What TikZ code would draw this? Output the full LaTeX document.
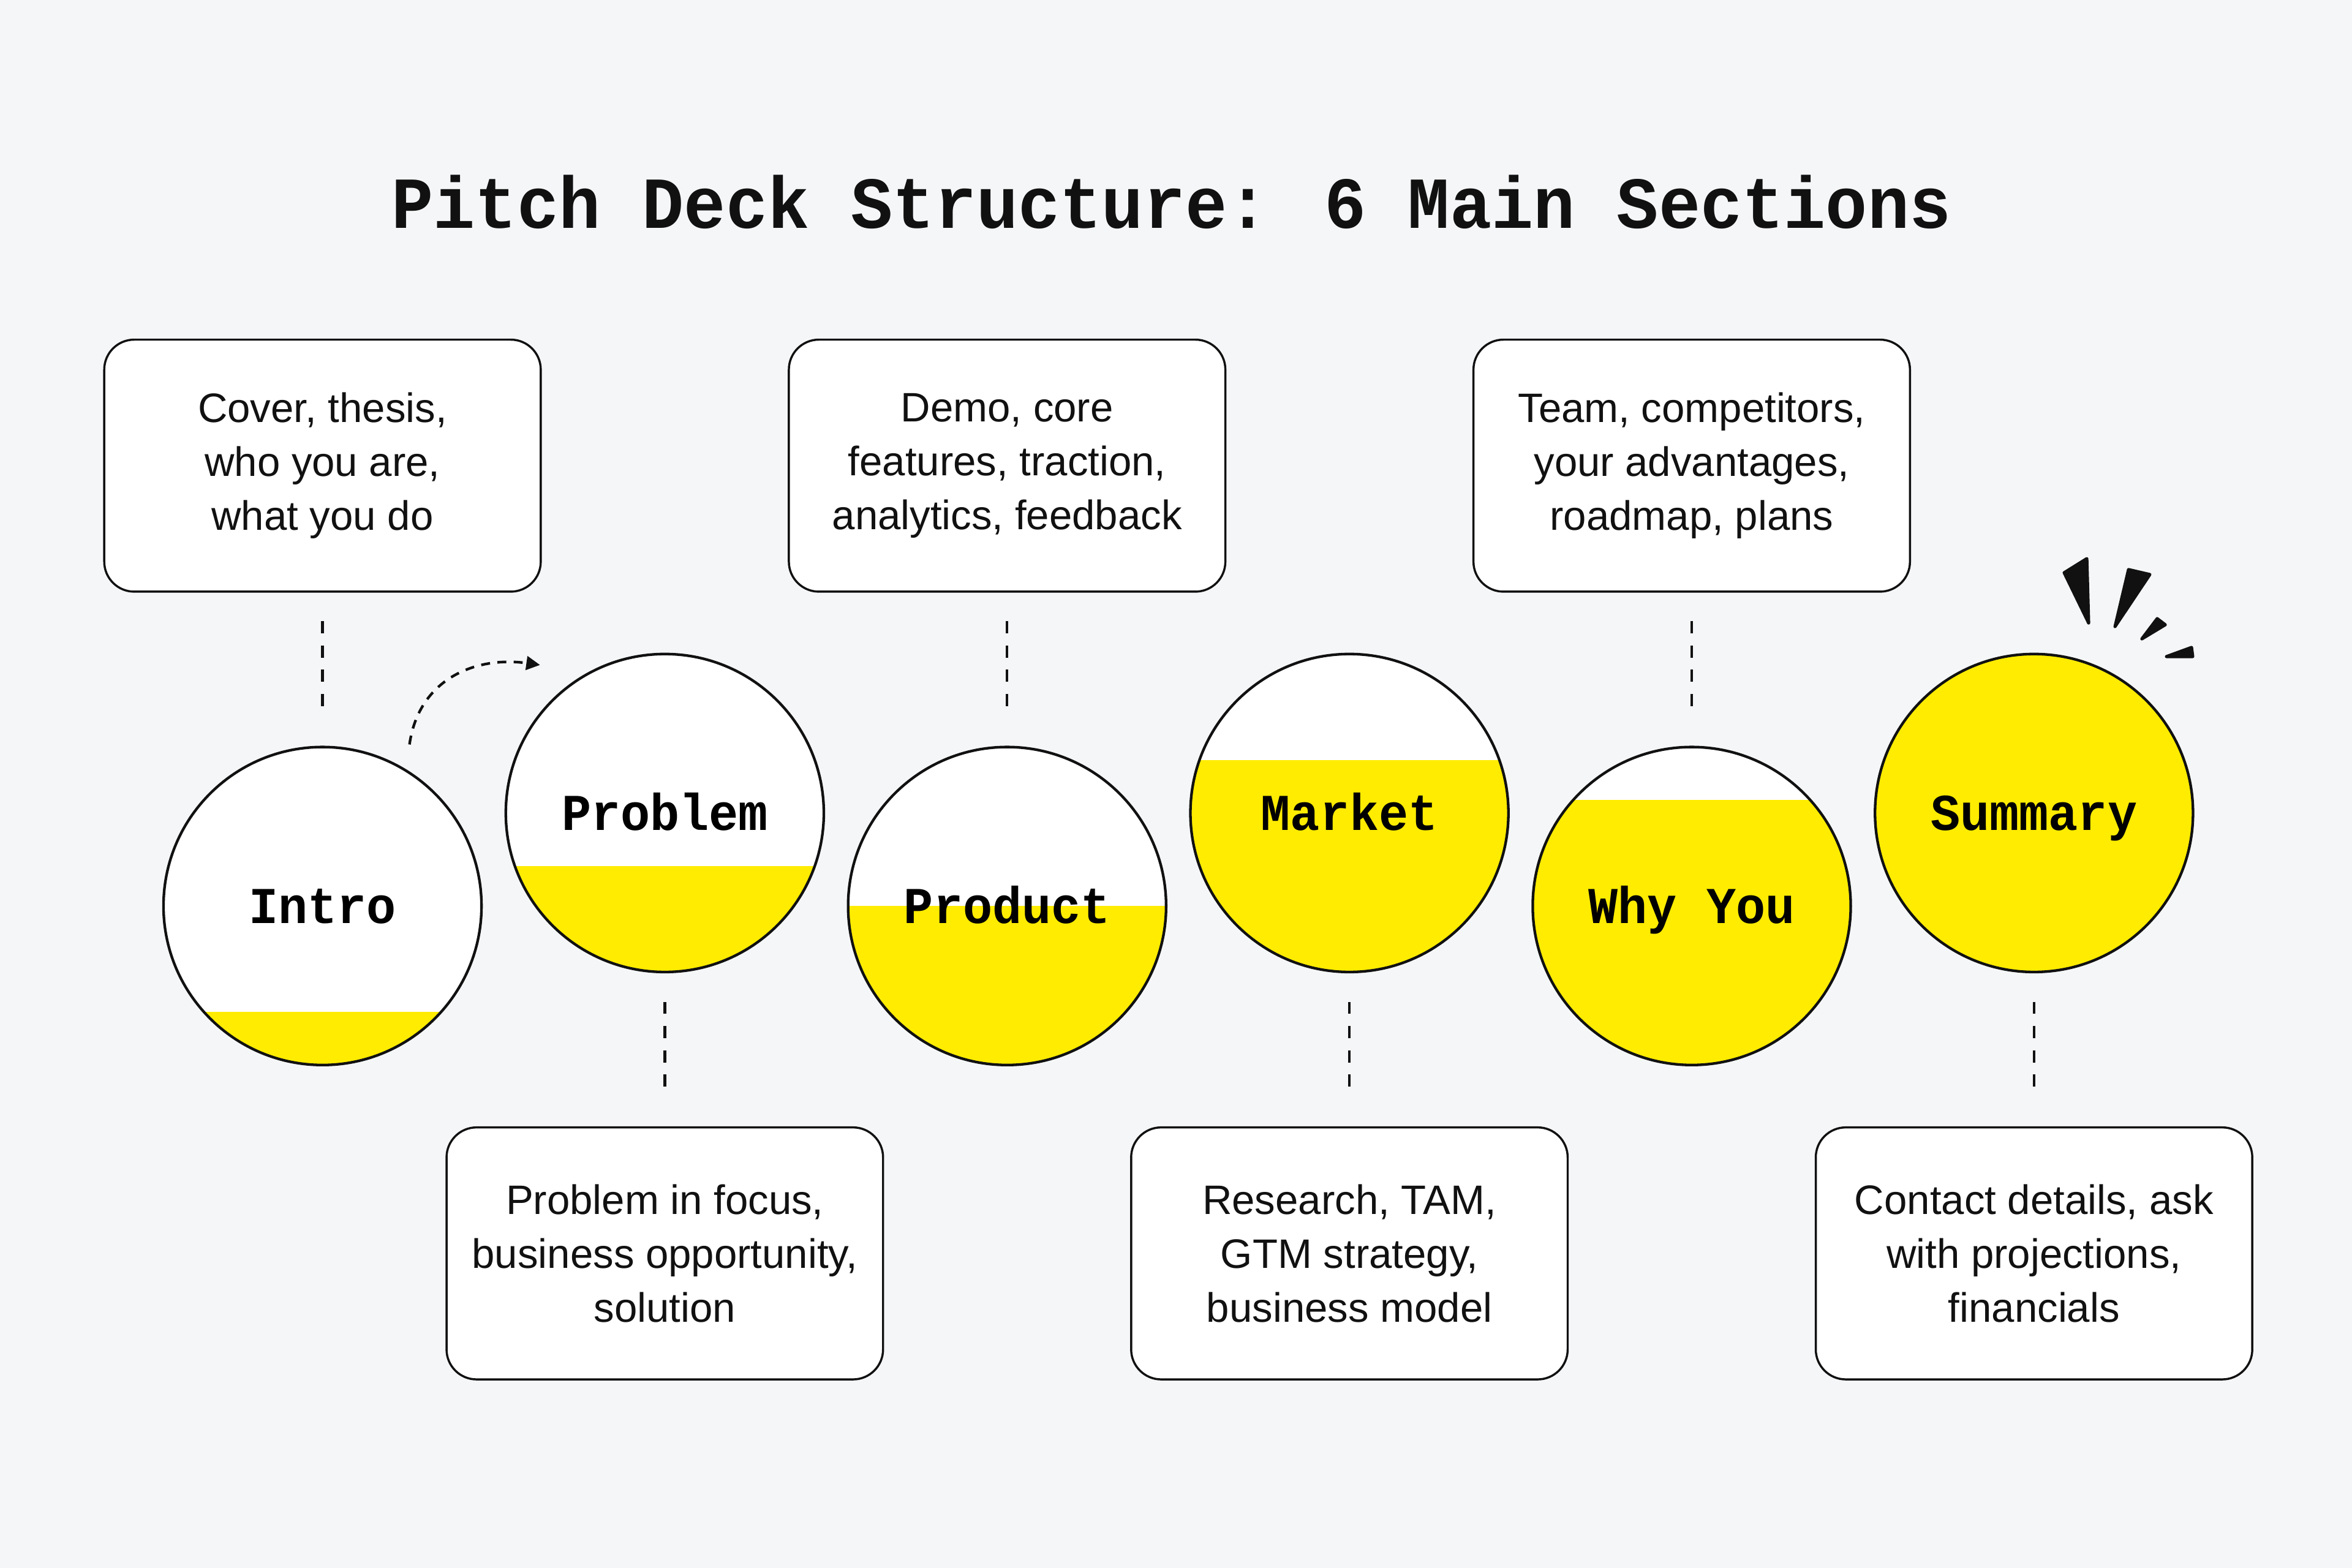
\documentclass[tikz,border=0pt]{standalone}
\usepackage{fontspec}
\setmainfont{Liberation Sans}
\newfontfamily\headfont[FakeStretch=0.95]{Liberation Mono}
\usetikzlibrary{positioning,arrows.meta}

\definecolor{pagebg}{HTML}{F5F6F8}
\definecolor{deckyellow}{HTML}{FFEC00}
\definecolor{inkblack}{HTML}{111111}

\tikzset{stage/.style = {shape = circle,
                         draw = inkblack,
                         fill = white,
                         line width = 0.5pt,
                         minimum size = 2.12cm,
                         inner sep = 0pt,
                         text height = 0.66em,
                         text depth = 0pt,
                         font = \headfont\bfseries\fontsize{9.8}{11}\selectfont},
         level/.style = {path picture = {\fill[deckyellow]
                         (path picture bounding box.south west) rectangle
                         ([yshift = #1*0.35333cm]path picture bounding box.south east);}},
         note/.style = {shape = rectangle,
                        rounded corners = 0.2cm,
                        draw = inkblack,
                        fill = white,
                        line width = 0.4pt,
                        minimum width = 2.91cm,
                        minimum height = 1.68cm,
                        align = center,
                        text = inkblack,
                        font = \fontsize{7.8}{10.25}\selectfont},
         link/.style = {draw = inkblack,
                        line width = 0.5pt,
                        dash pattern = on 2.3pt off 2.3pt,
                        shorten < = 0.19cm,
                        shorten > = 0.2cm},
         turn/.style = {draw = inkblack,
                        line width = 0.5pt,
                        dash pattern = on 1.7pt off 1.4pt,
                        -{Triangle[length = 2.6pt, width = 2.6pt]}},
         spark/.style = {fill = inkblack,
                         draw = inkblack,
                         line width = 0.6pt,
                         line join = round}}

\begin{document}
\begin{tikzpicture}
	\fill[pagebg] (0,0) rectangle (15.68,10.4533);

	\node[anchor = base, text = inkblack,
	      font = \headfont\bfseries\fontsize{13.9}{16}\selectfont] (heading) at (7.81,8.933)
	      {Pitch Deck Structure: 6 Main Sections};

	% six stages, filled up step by step
	\foreach \name/\label/\lev [count = \i from 0] in {intro/Intro/1, problem/Problem/2,
	         product/Product/3, market/Market/4, whyyou/Why You/5, summary/Summary/6}
		\node[stage, level = \lev] (\name) at ({2.15+2.282*\i},{4.413+0.62*mod(\i,2)}) {\label};

	\node[note, above = 1.02cm of intro] (introtext) {Cover, thesis,\\who you are,\\what you do};
	\node[note, below = 1.02cm of problem] (problemtext) {Problem in focus,\\business opportunity,\\solution};
	\node[note, above = 1.02cm of product] (producttext) {Demo, core\\features, traction,\\analytics, feedback};
	\node[note, below = 1.02cm of market] (markettext) {Research, TAM,\\GTM strategy,\\business model};
	\node[note, above = 1.02cm of whyyou] (whyyoutext) {Team, competitors,\\your advantages,\\roadmap, plans};
	\node[note, below = 1.02cm of summary] (summarytext) {Contact details, ask\\with projections,\\financials};

	\draw[link] (introtext) -- (intro);
	\draw[link] (problem) -- (problemtext);
	\draw[link] (producttext) -- (product);
	\draw[link] (market) -- (markettext);
	\draw[link] (whyyoutext) -- (whyyou);
	\draw[link] (summary) -- (summarytext);

	\coordinate (turnstart) at (2.73,5.49);
	\coordinate (turnend) at (3.60,6.02);
	\draw[turn] (turnstart) to[out = 82, in = 172, looseness = 1.1] (turnend);

	% burst over the summary
	\filldraw[spark] (13.761,6.635) -- (13.912,6.729) -- (13.924,6.300) -- cycle;
	\filldraw[spark] (14.190,6.656) -- (14.332,6.623) -- (14.100,6.276) -- cycle;
	\filldraw[spark] (14.381,6.329) -- (14.435,6.288) -- (14.279,6.194) -- cycle;
	\filldraw[spark] (14.610,6.137) -- (14.618,6.076) -- (14.443,6.076) -- cycle;
\end{tikzpicture}
\end{document}
